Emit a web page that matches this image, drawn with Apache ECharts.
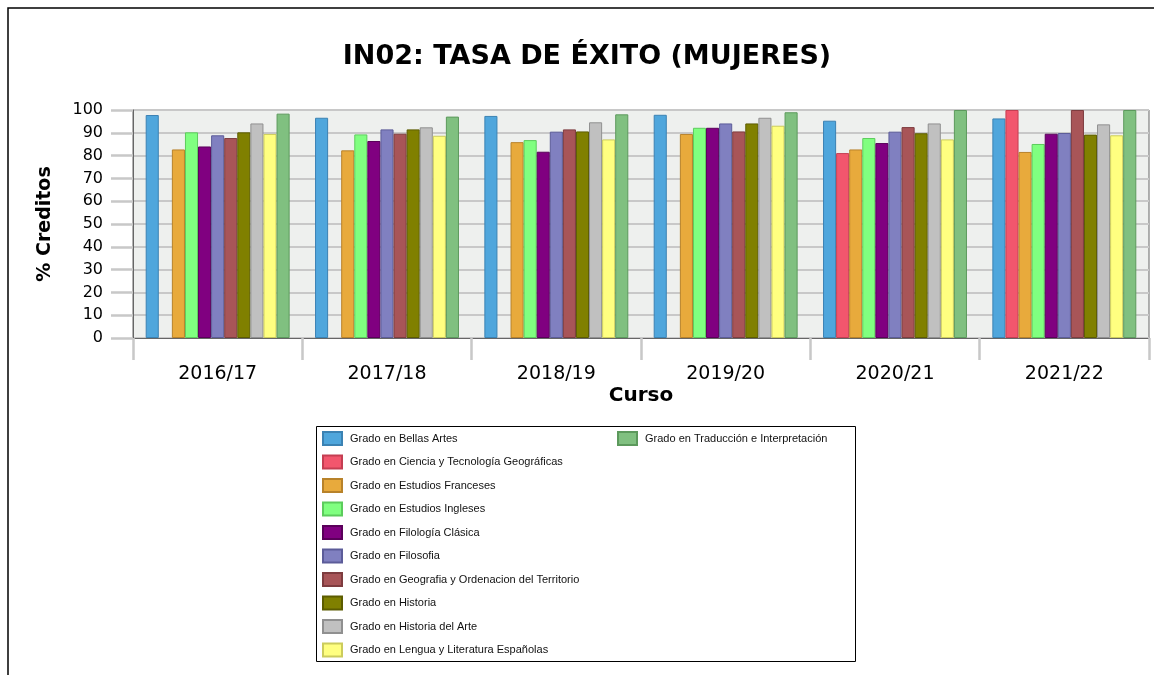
<!DOCTYPE html>
<html>
<head>
<meta charset="utf-8">
<title>IN02: Tasa de éxito (mujeres)</title>
<script src="https://cdn.jsdelivr.net/npm/echarts@6/dist/echarts.min.js"></script>
<style>
    html, body { margin: 0; padding: 0; background: #fff; }
    #main { width: 1154px; height: 675px; }
</style>
</head>
<body>
<div id="main"></div>
<script>
// cursos (eje X)
var cursos = ['2016/17', '2017/18', '2018/19', '2019/20', '2020/21', '2021/22'];

// titulaciones, en el orden de la leyenda
var grados = [
    'Grado en Bellas Artes',
    'Grado en Ciencia y Tecnología Geográficas',
    'Grado en Estudios Franceses',
    'Grado en Estudios Ingleses',
    'Grado en Filología Clásica',
    'Grado en Filosofia',
    'Grado en Geografia y Ordenacion del Territorio',
    'Grado en Historia',
    'Grado en Historia del Arte',
    'Grado en Lengua y Literatura Españolas',
    'Grado en Traducción e Interpretación'
];

// % creditos superados por curso ('-' = sin dato)
var bellasArtes     = [97.8, 96.6, 97.4, 97.9, 95.3, 96.3];
var cienciaTecGeo   = ['-', '-', '-', '-', 81.1, 100];
var estFranceses    = [82.7, 82.3, 85.9, 89.5, 82.7, 81.6];
var estIngleses     = [90.2, 89.3, 86.8, 92.2, 87.7, 85.1];
var filologiaClas   = [84.0, 86.4, 81.7, 92.2, 85.5, 89.6];
var filosofia       = [88.9, 91.5, 90.5, 94.1, 90.5, 89.9];
var geografia       = [87.7, 89.6, 91.5, 90.6, 92.5, 100];
var historia        = [90.2, 91.5, 90.6, 94.1, 89.8, 89.2];
var historiaArte    = [94.1, 92.4, 94.6, 96.6, 94.1, 93.7];
var lenguaLit       = [89.5, 88.7, 87.1, 93.1, 87.1, 88.9];
var traduccion      = [98.4, 97.1, 98.1, 99.0, 100, 100];

// ticks del eje Y
var yTicks = [0, 10, 20, 30, 40, 50, 60, 70, 80, 90, 100];

var valores = [bellasArtes, cienciaTecGeo, estFranceses, estIngleses, filologiaClas,
    filosofia, geografia, historia, historiaArte, lenguaLit, traduccion];

var colores = ['#4fa6dc', '#f2566d', '#e8aa3c', '#80ff80', '#800080', '#8080c0',
    '#a85558', '#808000', '#c0c0c0', '#ffff80', '#80c080'];
var bordes = ['#3b82b3', '#c43e52', '#b8822a', '#5ccc5c', '#5a005a', '#5c5c99',
    '#7e3c3f', '#5c5c00', '#909090', '#cccc5c', '#5c995c'];

var series = [];
for (var i = 0; i < grados.length; i++) {
    series.push({
        name: grados[i],
        type: 'bar',
        data: valores[i],
        barGap: 0,
        barCategoryGap: '15%',
        itemStyle: {
            color: colores[i],
            borderColor: bordes[i],
            borderWidth: 1
        }
    });
}

var fuente = 'DejaVu Sans';
var textoLeyenda = { fontFamily: 'Liberation Sans', fontSize: 11, color: '#111', lineHeight: 14, padding: [0, 0, 0, 3] };

option = {
    animation: false,
    backgroundColor: '#fff',
    textStyle: { fontFamily: fuente },
    title: {
        text: 'IN02: TASA DE ÉXITO (MUJERES)',
        left: 587,
        top: 43,
        padding: 0,
        textAlign: 'center',
        textStyle: {
            fontFamily: fuente,
            fontSize: 27,
            fontWeight: 'bold',
            color: '#000'
        }
    },
    grid: {
        left: 133,
        right: 5,
        top: 110,
        bottom: 337,
        show: true,
        backgroundColor: '#eef0ee',
        borderColor: '#666',
        borderWidth: 1,
        containLabel: false
    },
    legend: [{
        data: grados.slice(0, 10),
        orient: 'vertical',
        left: 322,
        top: 431,
        padding: 0,
        itemWidth: 19,
        itemHeight: 13,
        itemGap: 8.5,
        icon: 'rect',
        textStyle: textoLeyenda
    }, {
        data: grados.slice(10),
        orient: 'vertical',
        left: 617,
        top: 431,
        padding: 0,
        itemWidth: 19,
        itemHeight: 13,
        icon: 'rect',
        textStyle: textoLeyenda
    }],
    xAxis: {
        type: 'category',
        data: cursos,
        name: 'Curso',
        nameLocation: 'middle',
        nameGap: 48,
        nameTextStyle: { fontFamily: fuente, fontSize: 20, fontWeight: 'bold', color: '#000' },
        axisLine: { show: true, lineStyle: { color: '#666', width: 1 } },
        axisTick: { show: true, length: 22, lineStyle: { color: '#c8c8c8', width: 2.5 } },
        axisLabel: { fontFamily: fuente, fontSize: 19, color: '#000', margin: 27 }
    },
    yAxis: {
        type: 'value',
        min: yTicks[0],
        max: yTicks[yTicks.length - 1],
        interval: yTicks[1] - yTicks[0],
        name: '% Creditos',
        nameLocation: 'middle',
        nameGap: 78,
        nameTextStyle: { fontFamily: fuente, fontSize: 19, fontWeight: 'bold', color: '#000' },
        axisLine: { show: true, lineStyle: { color: '#666', width: 1 } },
        axisTick: { show: true, length: 22, lineStyle: { color: '#c8c8c8', width: 2.5 } },
        axisLabel: { fontFamily: fuente, fontSize: 16, color: '#000', margin: 30 },
        splitLine: { show: true, lineStyle: { color: '#c8c8c8', width: 2 } }
    },
    graphic: [{
        // marco exterior
        type: 'rect',
        shape: { x: 8, y: 8, width: 1200, height: 720 },
        style: { fill: 'none', stroke: '#000', lineWidth: 1.5 },
        silent: true
    }, {
        // caja de la leyenda
        type: 'rect',
        shape: { x: 316.5, y: 426.5, width: 539, height: 235 },
        style: { fill: 'none', stroke: '#000', lineWidth: 1 },
        silent: true
    }],
    series: series
};

var myChart = echarts.init(document.getElementById('main'));
myChart.setOption(option);
</script>
</body>
</html>
